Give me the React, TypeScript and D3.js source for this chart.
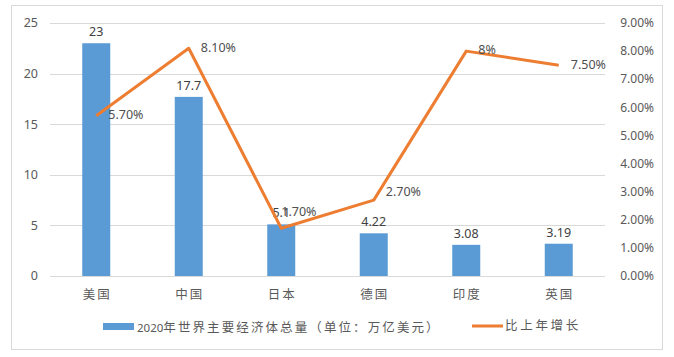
import React from "react";
import * as d3 from "d3";

const categories = ["美国", "中国", "日本", "德国", "印度", "英国"];
const gdpValues = [23, 17.7, 5.1, 4.22, 3.08, 3.19];
const growthValues = [5.7, 8.1, 1.7, 2.7, 8, 7.5];
const growthLabels = ["5.70%", "8.10%", "1.70%", "2.70%", "8%", "7.50%"];
const leftTicks = [0, 5, 10, 15, 20, 25];
const rightTicks = [0, 1, 2, 3, 4, 5, 6, 7, 8, 9];
const barSeriesYear = "2020";
const barSeriesName = "年世界主要经济体总量（单位：万亿美元）";
const lineSeriesName = "比上年增长";

const W = 674;
const H = 357;
const plotLeft = 50;
const plotRight = 605;
const plotTop = 23;
const plotBottom = 276;

const BLUE = "#5B9BD5";
const ORANGE = "#ED7D31";
const TEXT = "#595959";
const GRID = "#D9D9D9";
const FONT = "'Noto Sans', 'Noto Sans CJK SC', sans-serif";
const CJK = "'Noto Sans CJK SC', sans-serif";

// label nudges (dx, dy) for the growth labels that were moved in the original chart
function labelNudge(i: number): [number, number] {
  if (i === 2) return [0, -17];
  if (i === 3) return [12, -8];
  return [12, -1];
}

export default function App() {
  const xc = d3.scalePoint<string>().domain(categories).range([plotLeft, plotRight]).padding(0.5);
  const yL = d3.scaleLinear().domain([0, 25]).range([plotBottom, plotTop]);
  const yR = d3.scaleLinear().domain([0, 9]).range([plotBottom, plotTop]);
  const bw = 28;

  const line = d3
    .line<number>()
    .x((_, i) => xc(categories[i])!)
    .y((d) => yR(d));

  return (
    <svg width={W} height={H} style={{ position: "absolute", left: 0, top: 0, background: "#fff" }}>
      <rect x={11.5} y={5.5} width={651} height={344} fill="#fff" stroke="#D9D9D9" />
      {leftTicks.map((t) => (
        <line key={"g" + t} x1={plotLeft} x2={plotRight} y1={Math.round(yL(t)) + 0.5} y2={Math.round(yL(t)) + 0.5} stroke={GRID} strokeWidth={1} />
      ))}
      {leftTicks.map((t) => (
        <text key={"l" + t} x={38} y={yL(t)} dy="0.35em" textAnchor="end" fontSize={12.5} fill={TEXT} fontFamily={FONT}>
          {t}
        </text>
      ))}
      {rightTicks.map((t) => (
        <text key={"r" + t} x={654} y={yR(t)} dy="0.35em" textAnchor="end" fontSize={12} fill={TEXT} fontFamily={FONT}>
          {d3.format(".2f")(t) + "%"}
        </text>
      ))}
      {categories.map((c, i) => {
        const cx = xc(c)!;
        return (
          <g key={c}>
            <rect x={cx - bw / 2} y={yL(gdpValues[i])} width={bw} height={plotBottom - yL(gdpValues[i])} fill={BLUE} />
            <text x={cx} y={yL(gdpValues[i]) - 7} textAnchor="middle" fontSize={12.5} fill="#404040" fontFamily={FONT}>
              {String(gdpValues[i])}
            </text>
            <text x={cx + 1} y={295} dy="0.35em" textAnchor="middle" fontSize={12.5} letterSpacing={2} fill={TEXT} fontFamily={CJK}>
              {c}
            </text>
          </g>
        );
      })}
      <path d={line(growthValues) || ""} fill="none" stroke={ORANGE} strokeWidth={3} strokeLinejoin="round" />
      {categories.map((c, i) => {
        const [dx, dy] = labelNudge(i);
        return (
          <text key={"gl" + c} x={xc(c)! + dx} y={yR(growthValues[i]) + dy} dy="0.35em" textAnchor="start" fontSize={12.5} fill="#505050" fontFamily={FONT}>
            {growthLabels[i]}
          </text>
        );
      })}
      <rect x={103} y={323} width={31} height={7} fill={BLUE} />
      <text x={137} y={326} dy="0.35em" fill={TEXT}>
        <tspan fontSize={11.5} fontFamily={FONT}>{barSeriesYear}</tspan>
        <tspan fontSize={12.5} fontFamily={CJK} letterSpacing={2.1}>{barSeriesName}</tspan>
      </text>
      <line x1={472} x2={503} y1={326} y2={326} stroke={ORANGE} strokeWidth={3} />
      <text x={505} y={326} dy="0.35em" fontSize={12.5} letterSpacing={2.7} fill={TEXT} fontFamily={CJK}>
        {lineSeriesName}
      </text>
    </svg>
  );
}
